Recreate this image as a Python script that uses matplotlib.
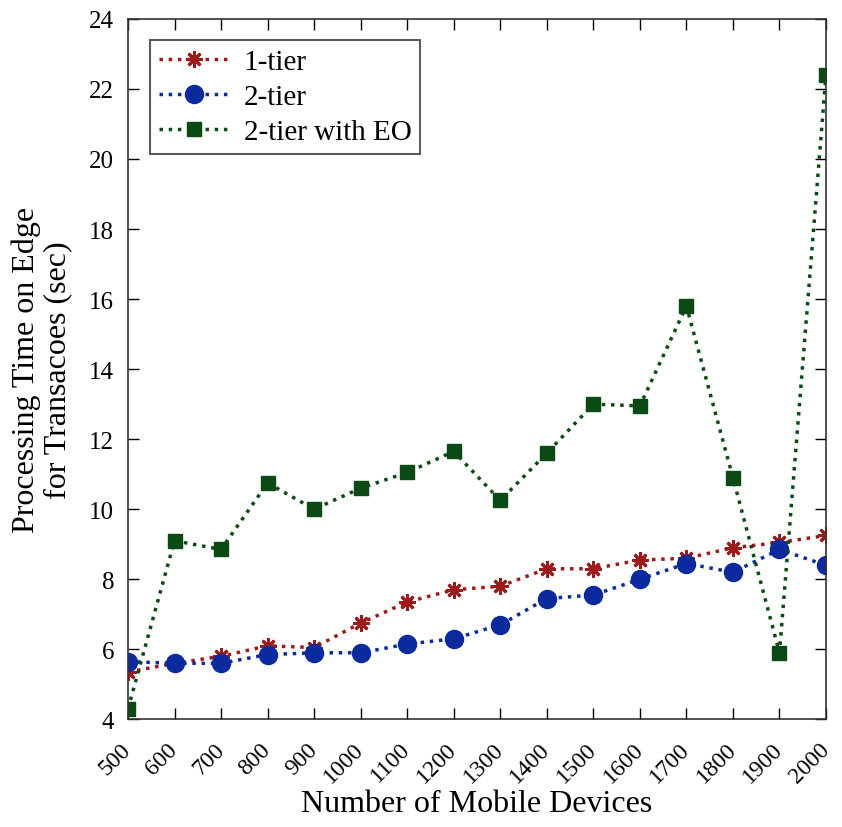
import matplotlib.pyplot as plt

plt.rcParams['font.family'] = ['Liberation Serif', 'DejaVu Serif']

devices = [500, 600, 700, 800, 900, 1000, 1100, 1200, 1300, 1400, 1500, 1600, 1700, 1800, 1900, 2000]
tier1 = [5.35, 5.6, 5.8, 6.1, 6.05, 6.75, 7.35, 7.7, 7.8, 8.3, 8.3, 8.55, 8.6, 8.9, 9.05, 9.25]
tier2 = [5.65, 5.6, 5.6, 5.85, 5.9, 5.9, 6.15, 6.3, 6.7, 7.45, 7.55, 8.0, 8.45, 8.2, 8.85, 8.4]
tier2_eo = [4.3, 9.1, 8.85, 10.75, 10.0, 10.6, 11.05, 11.65, 10.25, 11.6, 13.0, 12.95, 15.8, 10.9, 5.9, 22.4]

fig = plt.figure(figsize=(8.42, 8.28), dpi=100)
ax = fig.add_axes([0.152, 0.130, 0.829, 0.846])

ax.plot(devices, tier1, ':', color='#9e1a1a', lw=2.5, marker=(8, 2, 0), ms=12, mew=2, label='1-tier')
ax.plot(devices, tier2, ':', color='#0a2a9e', lw=2.5, marker='o', ms=13, label='2-tier')
ax.plot(devices, tier2_eo, ':', color='#0b4a14', lw=2.5, marker='s', ms=10, label='2-tier with EO')

ax.set_xlim(500, 2000)
ax.set_ylim(4, 24)
ax.set_xticks(devices)
# rotated labels end at their tick, as in the original
ax.set_xticklabels([str(d) for d in devices], rotation=45, fontsize=17,
                   ha='right', va='center', rotation_mode='anchor')
ax.set_yticks(range(4, 25, 2))
ax.tick_params(axis='y', labelsize=18, pad=10)
ax.tick_params(axis='x', pad=19)
ax.tick_params(direction='in', top=True, right=True, length=8, width=1)
for s in ax.spines.values():
    s.set_linewidth(1.2)
    s.set_color('#333333')

ax.set_xlabel('Number of Mobile Devices', fontsize=23, labelpad=2)
ax.set_ylabel('Processing Time on Edge\nfor Transacoes (sec)', fontsize=23, labelpad=12,
              linespacing=1.1)

leg = ax.legend(loc='upper left', fontsize=21, frameon=True, fancybox=False,
                edgecolor='#333333', borderpad=0.3, labelspacing=0.3, handlelength=2.4,
                handletextpad=0.5, borderaxespad=0, bbox_to_anchor=(0.032, 0.97))
leg.get_frame().set_linewidth(1.5)

fig.savefig('out.png', dpi=100)
